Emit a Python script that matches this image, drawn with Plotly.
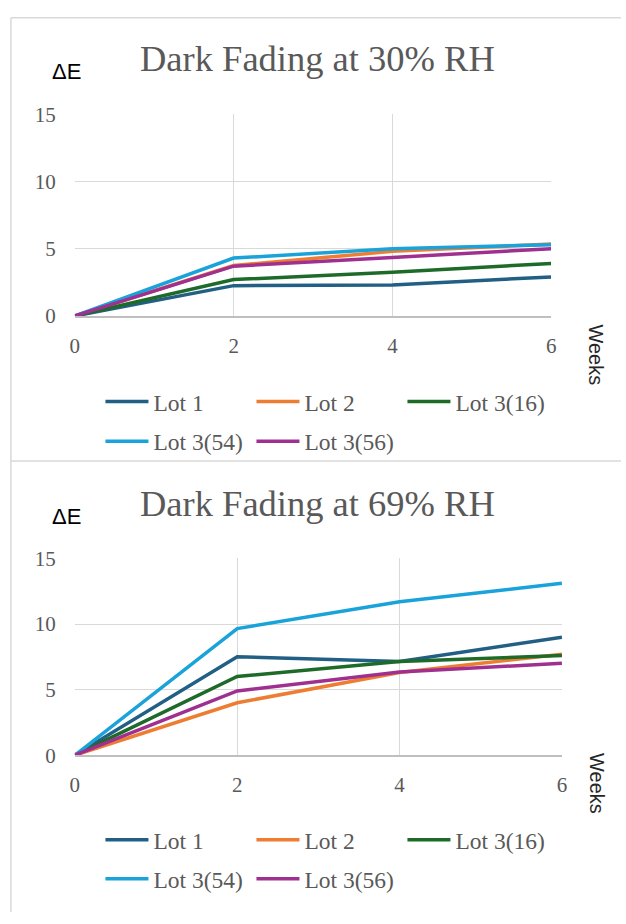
import plotly.graph_objects as go

weeks = [0, 2, 4, 6]
series_names = ["Lot 1", "Lot 2", "Lot 3(16)", "Lot 3(54)", "Lot 3(56)"]
rh30_lot1 = [0, 2.25, 2.3, 2.9]
rh30_lot2 = [0, 3.75, 4.8, 5.35]
rh30_lot3_16 = [0, 2.7, 3.25, 3.9]
rh30_lot3_54 = [0, 4.3, 5.0, 5.3]
rh30_lot3_56 = [0, 3.7, 4.35, 5.0]
rh69_lot1 = [0, 7.5, 7.15, 9.0]
rh69_lot2 = [0, 4.0, 6.3, 7.7]
rh69_lot3_16 = [0, 6.0, 7.15, 7.6]
rh69_lot3_54 = [0, 9.65, 11.7, 13.1]
rh69_lot3_56 = [0, 4.9, 6.35, 7.0]
y_ticks = [0, 5, 10, 15]
x_ticks = [0, 2, 4, 6]
titles = ["Dark Fading at 30% RH", "Dark Fading at 69% RH"]

colors = ["#215F85", "#ED7D31", "#1E6B29", "#19A3DA", "#A0308F"]
W, H = 626, 924
SERIF = "Liberation Serif, serif"
SANS = "Liberation Sans, sans-serif"

def px(x):
    return x / W

def py(y):
    return 1 - y / H

fig = go.Figure()
top_data = [rh30_lot1, rh30_lot2, rh30_lot3_16, rh30_lot3_54, rh30_lot3_56]
bot_data = [rh69_lot1, rh69_lot2, rh69_lot3_16, rh69_lot3_54, rh69_lot3_56]

for i, (name, vals) in enumerate(zip(series_names, top_data)):
    fig.add_trace(go.Scatter(x=weeks, y=vals, mode="lines", name=name,
                             line=dict(color=colors[i], width=3.5),
                             xaxis="x", yaxis="y",
                             legend="legend" if i < 3 else "legend2"))
for i, (name, vals) in enumerate(zip(series_names, bot_data)):
    fig.add_trace(go.Scatter(x=weeks, y=vals, mode="lines", name=name,
                             line=dict(color=colors[i], width=3.5),
                             xaxis="x2", yaxis="y2",
                             legend="legend3" if i < 3 else "legend4"))

tickfont = dict(family=SERIF, size=21, color="#595959")
axis_common = dict(showgrid=True, gridcolor="#D9D9D9", gridwidth=1.3, zeroline=False,
                   tickfont=tickfont, ticks="", fixedrange=True)

fig.update_layout(
    width=W, height=H, margin=dict(l=0, r=0, t=0, b=0),
    paper_bgcolor="white", plot_bgcolor="white",
    xaxis=dict(domain=[px(71), px(555)], range=[0, 6], tickvals=x_ticks, anchor="y",
               showline=True, linecolor="#BFBFBF", linewidth=1.5, ticklabelstandoff=10, **axis_common),
    yaxis=dict(domain=[py(312), py(105)], range=[0, 15], tickvals=y_ticks, anchor="x",
               ticklabelstandoff=18, **axis_common),
    xaxis2=dict(domain=[px(71), px(566)], range=[0, 6], tickvals=x_ticks, anchor="y2",
                showline=True, linecolor="#BFBFBF", linewidth=1.5, ticklabelstandoff=10, **axis_common),
    yaxis2=dict(domain=[py(763), py(561)], range=[0, 15], tickvals=y_ticks, anchor="x2",
                ticklabelstandoff=18, **axis_common),
)

legfont = dict(family=SERIF, size=23.5, color="#595959")
def leg(xpix, ypix):
    return dict(orientation="h", x=px(xpix), y=py(ypix), xanchor="left", yanchor="middle",
                font=legfont, bgcolor="rgba(0,0,0,0)", entrywidth=93, entrywidthmode="pixels",
                itemwidth=43, tracegroupgap=0)

fig.update_layout(legend=leg(97, 400), legend2=leg(97, 441),
                  legend3=leg(97, 850), legend4=leg(97, 890))

annots = []
for t, ty, dy, wy in [(titles[0], 48, 61, 352), (titles[1], 505, 518, 792)]:
    annots.append(dict(text=t, x=px(318), y=py(ty), xref="paper", yref="paper",
                       showarrow=False, xanchor="center", yanchor="middle",
                       font=dict(family=SERIF, size=36.5, color="#595959")))
    annots.append(dict(text="ΔE", x=px(62), y=py(dy), xref="paper", yref="paper",
                       showarrow=False, xanchor="center", yanchor="middle",
                       font=dict(family=SANS, size=22, color="#000000")))
    annots.append(dict(text="Weeks", x=px(601), y=py(wy), xref="paper", yref="paper",
                       showarrow=False, xanchor="center", yanchor="middle", textangle=90,
                       font=dict(family=SANS, size=20, color="#262626")))
fig.update_layout(annotations=annots)

border = dict(color="#D9D9D9", width=1.5)
fig.update_layout(shapes=[
    dict(type="line", xref="paper", yref="paper", x0=px(6), x1=1, y0=py(6), y1=py(6), line=border),
    dict(type="line", xref="paper", yref="paper", x0=px(6), x1=px(6), y0=py(6), y1=0, line=border),
    dict(type="line", xref="paper", yref="paper", x0=px(6), x1=1, y0=py(461), y1=py(461), line=border),
])

fig.write_html("out.html")
